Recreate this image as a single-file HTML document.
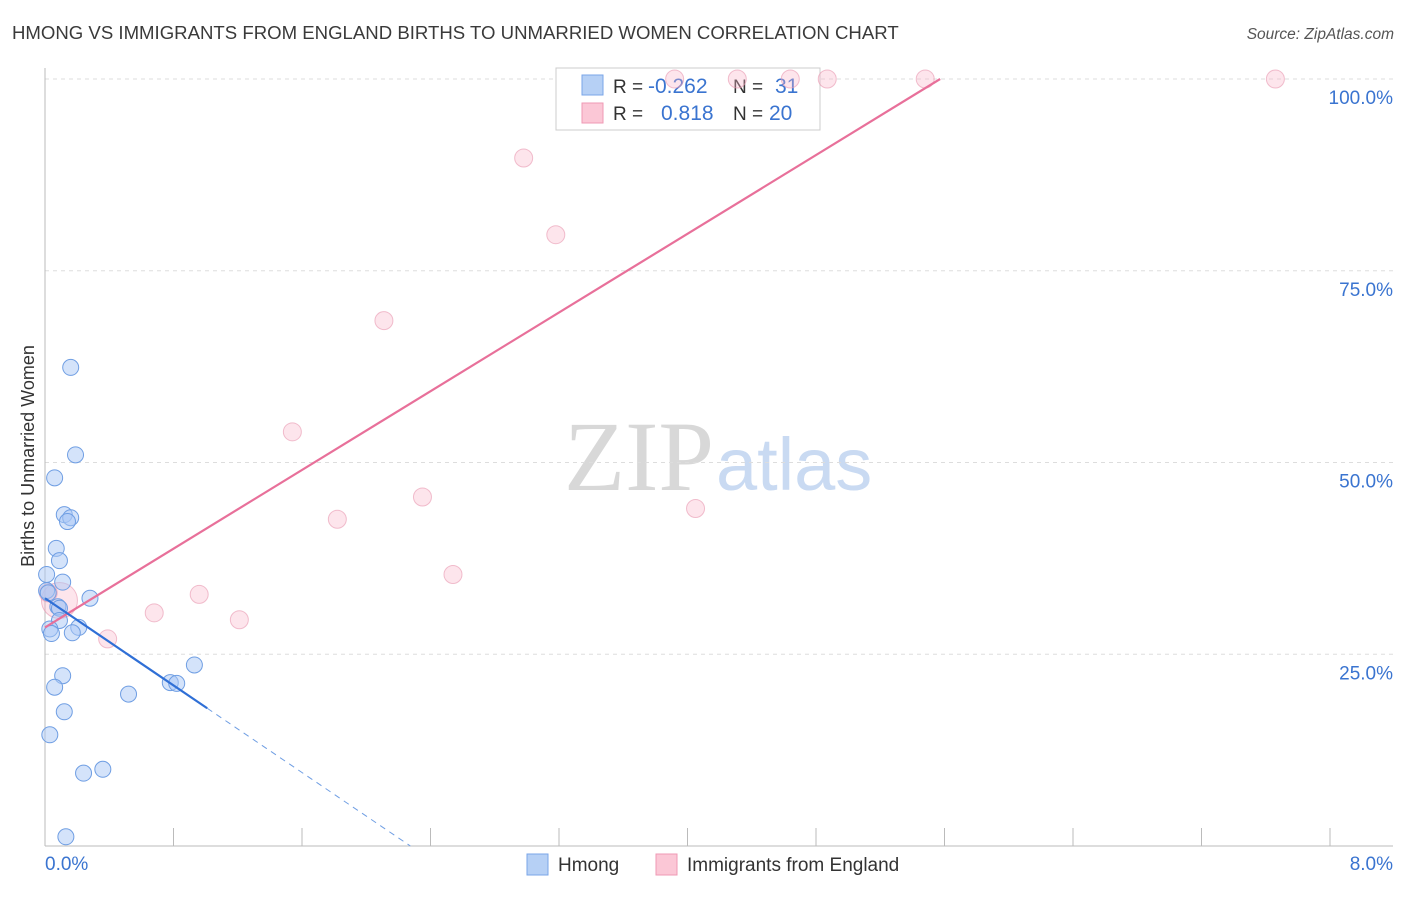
<!DOCTYPE html>
<html><head><meta charset="utf-8"><style>
body{margin:0;background:#fff;font-family:"Liberation Sans",sans-serif;}
</style></head><body>
<svg id="chart" width="1406" height="892" xmlns="http://www.w3.org/2000/svg" font-family="Liberation Sans, sans-serif">
<text x="12" y="39" font-size="18.6" fill="#3a3a3a">HMONG VS IMMIGRANTS FROM ENGLAND BIRTHS TO UNMARRIED WOMEN CORRELATION CHART</text>
<text x="1394" y="39" font-size="15.5" fill="#555" font-style="italic" text-anchor="end">Source: ZipAtlas.com</text>
<text x="714" y="490" font-size="100" text-anchor="end" fill="#d8d8d8" font-family="Liberation Serif, serif">ZIP</text>
<text x="716" y="490" font-size="74" fill="#c9daf2">atlas</text>
<text transform="translate(34,456) rotate(-90)" font-size="18" fill="#333" text-anchor="middle">Births to Unmarried Women</text>
<g id="grid"></g>
<g>
<rect x="556" y="68" width="264" height="62" fill="#fff" stroke="#ccc"/>
<rect x="582" y="75" width="21" height="20" fill="#b6d0f5" stroke="#7aa6e8"/>
<rect x="582" y="103" width="21" height="20" fill="#fbc7d6" stroke="#ef9ab4"/>
<text x="613" y="93" font-size="19" fill="#333">R =</text>
<text x="648" y="93" font-size="21" fill="#3a74d0">-0.262</text>
<text x="733" y="93" font-size="19" fill="#333">N =</text>
<text x="775" y="93" font-size="21" fill="#3a74d0">31</text>
<text x="613" y="120" font-size="19" fill="#333">R =</text>
<text x="661" y="120" font-size="21" fill="#3a74d0">0.818</text>
<text x="733" y="120" font-size="19" fill="#333">N =</text>
<text x="769" y="120" font-size="21" fill="#3a74d0">20</text>
</g>
<g id="marks"></g>
<g>
<rect x="527" y="854" width="21" height="21" fill="#b6d0f5" stroke="#7aa6e8"/>
<text x="558" y="871" font-size="19" fill="#333">Hmong</text>
<rect x="656" y="854" width="21" height="21" fill="#fbc7d6" stroke="#ef9ab4"/>
<text x="687" y="871" font-size="19" fill="#333">Immigrants from England</text>
</g>
</svg>
<script>
const yTicks=[25,50,75,100];
const yTickLabels=["25.0%","50.0%","75.0%","100.0%"];
const xTickCount=10;
const hmongX=[0.16,0.19,0.06,0.12,0.16,0.14,0.07,0.09,0.11,0.01,0.01,0.28,0.08,0.09,0.09,0.03,0.04,0.21,0.17,0.11,0.06,0.52,0.78,0.82,0.93,0.12,0.03,0.36,0.24,0.13,0.02];
const hmongY=[62.4,51,48,43.2,42.8,42.3,38.8,37.2,34.4,35.4,33.3,32.3,31.2,31,29.4,28.3,27.7,28.5,27.8,22.2,20.7,19.8,21.3,21.2,23.6,17.5,14.5,10,9.5,1.2,33];
const engX=[3.92,4.31,4.64,4.87,5.48,7.66,2.98,3.18,2.11,1.54,2.35,1.82,4.05,2.54,0.96,0.68,1.21,0.39,0.09,0.02];
const engY=[100,100,100,100,100,100,89.7,79.7,68.5,54,45.5,42.6,44,35.4,32.8,30.4,29.5,27,32,33];
const engR=[9,9,9,9,9,9,9,9,9,9,9,9,9,9,9,9,9,9,18,9];
const hmongLine=[32.3,-14.2]; const engLine=[28.5,12.83];
const X=v=>45+v/8*1285, Y=v=>846-v/100*767;
const NS="http://www.w3.org/2000/svg";
function mk(t,a,p){const e=document.createElementNS(NS,t);for(const k in a)e.setAttribute(k,a[k]);p.appendChild(e);return e;}
const g=document.getElementById('grid'),m=document.getElementById('marks');
yTicks.forEach((t,i)=>{
 const l=mk('line',{x1:45,x2:1393,y1:Y(t),y2:Y(t),stroke:'#ddd','stroke-dasharray':'4,4'},g);
 
 
 const tx=mk('text',{x:1393,y:Y(t)+25,'font-size':19,fill:'#3a74d0','text-anchor':'end'},g);tx.textContent=yTickLabels[i];
 
 
});
mk('line',{x1:45,x2:45,y1:68,y2:846,stroke:'#bbb'},g);
mk('line',{x1:45,x2:1393,y1:846,y2:846,stroke:'#bbb'},g);
for(let i=1;i<=xTickCount;i++){const l=mk('line',{x1:X(i*0.8),x2:X(i*0.8),y1:828,y2:846,stroke:'#bbb'},g);
 
 }
let t=mk('text',{x:45,y:870,'font-size':19,fill:'#3a74d0'},g);t.textContent='0.0%';


t=mk('text',{x:1393,y:870,'font-size':19,fill:'#3a74d0','text-anchor':'end'},g);t.textContent='8.0%';


engX.forEach((x,i)=>{const c=mk('circle',{cx:X(x),cy:Y(engY[i]),r:engR[i],fill:'rgba(248,180,200,0.35)',stroke:'rgba(232,150,175,0.6)','stroke-width':1},m);
 
 });
hmongX.forEach((x,i)=>{const c=mk('circle',{cx:X(x),cy:Y(hmongY[i]),r:8,fill:'rgba(170,200,245,0.5)',stroke:'#6f9ee3','stroke-width':1},m);
 
 });
const ex=(100-engLine[0])/engLine[1];
let l=mk('line',{x1:X(0),y1:Y(engLine[0]),x2:X(ex),y2:Y(100),stroke:'#e8709a','stroke-width':2.2},m);


l=mk('line',{x1:X(0),y1:Y(hmongLine[0]),x2:X(1.01),y2:Y(hmongLine[0]+hmongLine[1]*1.01),stroke:'#2f6fd6','stroke-width':2.2},m);


const hx=-hmongLine[0]/hmongLine[1];
l=mk('line',{x1:X(1.01),y1:Y(hmongLine[0]+hmongLine[1]*1.01),x2:X(hx),y2:Y(0),stroke:'#6f9ee3','stroke-width':1,'stroke-dasharray':'6,5'},m);


</script>
</body></html>
